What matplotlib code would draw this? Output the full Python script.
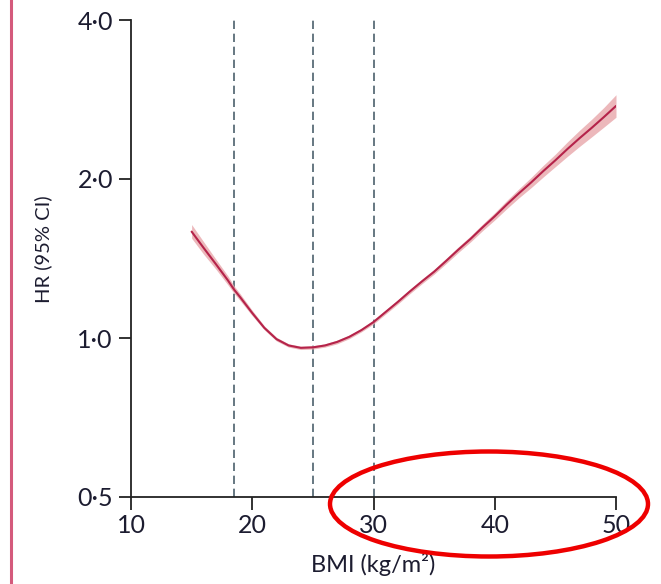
import matplotlib
matplotlib.use("Agg")
import matplotlib.pyplot as plt
from matplotlib.patches import Ellipse
from matplotlib.lines import Line2D

# Data
bmi = [15, 16, 17, 18, 18.5, 19, 20, 21, 22, 23, 24, 25, 26, 27, 28, 29, 30,
       31, 32, 33, 34, 35, 36, 37, 38, 39, 40, 41, 42, 43, 44, 45, 46, 47, 48, 49, 50]
hr = [1.59, 1.48, 1.38, 1.285, 1.235, 1.195, 1.115, 1.045, 0.995, 0.968, 0.958, 0.960,
      0.968, 0.983, 1.005, 1.035, 1.072, 1.12, 1.17, 1.225, 1.28, 1.335, 1.40, 1.47,
      1.54, 1.62, 1.70, 1.79, 1.88, 1.97, 2.07, 2.17, 2.28, 2.39, 2.50, 2.62, 2.75]
hr_lower = [1.545, 1.44, 1.35, 1.26, 1.215, 1.177, 1.102, 1.036, 0.987, 0.961, 0.951, 0.953,
            0.961, 0.975, 0.997, 1.027, 1.063, 1.110, 1.159, 1.213, 1.267, 1.321, 1.384, 1.452,
            1.520, 1.597, 1.673, 1.758, 1.843, 1.926, 2.018, 2.111, 2.208, 2.306, 2.404, 2.508, 2.618]
hr_upper = [1.64, 1.52, 1.41, 1.31, 1.255, 1.213, 1.128, 1.054, 1.003, 0.975, 0.965, 0.967,
            0.975, 0.991, 1.013, 1.043, 1.081, 1.130, 1.181, 1.237, 1.293, 1.349, 1.416, 1.488,
            1.560, 1.643, 1.727, 1.822, 1.917, 2.014, 2.122, 2.229, 2.352, 2.474, 2.596, 2.732, 2.888]
cutoffs = [18.5, 25, 30]
yticks = [0.5, 1.0, 2.0, 4.0]
ytick_labels = ["0·5", "1·0", "2·0", "4·0"]
xticks = [10, 20, 30, 40, 50]

plt.rcParams['font.family'] = ['Lato', 'DejaVu Sans']

fig = plt.figure(figsize=(6.61, 5.84), dpi=100)
ax = fig.add_axes([131/661, 87/584, 485/661, 477/584])

ax.set_yscale('log')
ax.set_xlim(10, 50)
ax.set_ylim(0.5, 4.0)

for c in cutoffs:
    ax.axvline(c, color='#4c606c', lw=1.2, ls=(0, (5, 2.8)), zorder=1)

ax.fill_between(bmi, hr_lower, hr_upper, color='#e8a6aa', alpha=0.8, lw=0, zorder=2)
ax.plot(bmi, hr, color='#b5234a', lw=1.5, zorder=3, solid_capstyle='round')

ax.set_yticks(yticks)
ax.set_yticklabels(ytick_labels)
ax.yaxis.set_minor_locator(matplotlib.ticker.NullLocator())
ax.set_xticks(xticks)

for s in ['top', 'right']:
    ax.spines[s].set_visible(False)
for s in ['left', 'bottom']:
    ax.spines[s].set_linewidth(1.3)
    ax.spines[s].set_color('#222222')

ax.tick_params(axis='both', which='major', direction='out', length=9, width=1.3,
               labelsize=18, colors='#222222', labelcolor='#1c1c30')
ax.tick_params(axis='x', pad=3)
ax.tick_params(axis='y', pad=4)

ax.set_xlabel('BMI (kg/m²)', fontsize=17, color='#1c1c30', labelpad=12)
ax.set_ylabel('HR (95% CI)', fontsize=14.5, color='#1c1c30')
ax.yaxis.set_label_coords(-0.163, 0.52)

# pink margin line on the left
fig.add_artist(Line2D([11/661, 11/661], [0, 1], transform=fig.transFigure,
                      color='#d45a7c', lw=2.2))

# red ellipse annotation
ell = Ellipse((489/661, 80/584), 318/661, 105/584, transform=fig.transFigure,
              fill=False, edgecolor='#ee0000', lw=3.2, clip_on=False, zorder=10)
fig.add_artist(ell)

fig.savefig('out.png', dpi=100)
